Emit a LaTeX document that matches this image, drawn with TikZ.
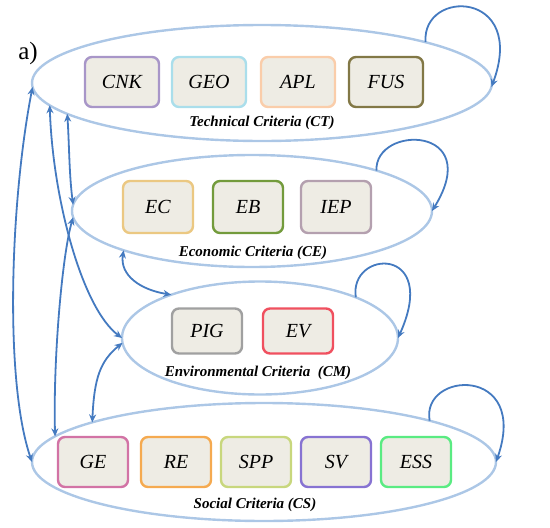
\documentclass[tikz,border=0pt]{standalone}
\usepackage{fontspec}
\setmainfont{Liberation Serif}
\usetikzlibrary{shapes.geometric,arrows.meta}

\definecolor{ringblue}{RGB}{172,199,230}
\definecolor{arrowblue}{RGB}{68,122,192}
\definecolor{boxfill}{RGB}{238,236,228}
\definecolor{cnkcol}{RGB}{168,150,200}
\definecolor{geocol}{RGB}{170,222,235}
\definecolor{aplcol}{RGB}{250,205,170}
\definecolor{fuscol}{RGB}{130,120,70}
\definecolor{eccol}{RGB}{235,200,130}
\definecolor{ebcol}{RGB}{115,155,60}
\definecolor{iepcol}{RGB}{180,160,175}
\definecolor{pigcol}{RGB}{160,160,160}
\definecolor{evcol}{RGB}{240,80,95}
\definecolor{gecol}{RGB}{210,115,165}
\definecolor{recol}{RGB}{245,170,80}
\definecolor{sppcol}{RGB}{200,215,125}
\definecolor{svcol}{RGB}{135,115,210}
\definecolor{esscol}{RGB}{90,235,130}

\tikzset{
  critring/.style={ellipse, draw=ringblue, line width=2.4pt, inner sep=0pt, outer sep=0pt},
  critbox/.style={draw=#1, fill=boxfill, rounded corners=7pt, line width=2.4pt,
    minimum width=70pt, minimum height=50pt, inner sep=0pt,
    font=\fontsize{20}{20}\selectfont\itshape},
  grouptitle/.style={font=\fontsize{15}{15}\selectfont\bfseries\itshape},
  link/.style={arrowblue, line width=1.8pt,
    {Stealth[length=8pt,width=7pt]}-{Stealth[length=8pt,width=7pt]}},
  selfloop/.style={arrowblue, line width=1.8pt, -{Stealth[length=8pt,width=7pt]}},
}

\begin{document}
\begin{tikzpicture}[x=1pt, y=-1pt]
    \useasboundingbox (0,0) rectangle (550,528);

    % groups
    \node[critring, minimum width=460pt, minimum height=116pt] (CT) at (262,83) {};
    \node[critring, minimum width=360pt, minimum height=112pt] (CE) at (252,211) {};
    \node[critring, minimum width=276pt, minimum height=113pt] (CM) at (260,338) {};
    \node[critring, minimum width=464pt, minimum height=118pt] (CS) at (264,462) {};

    \node[font=\fontsize{25}{25}\selectfont] (tag) at (28,53) {a)};

    % technical
    \foreach \name/\x/\col in {CNK/122/cnkcol, GEO/209/geocol, APL/298/aplcol, FUS/386/fuscol}
        \node[critbox=\col, minimum width=74pt] (\name) at (\x,82) {\name};
    \node[grouptitle] (tCT) at (262,123) {Technical Criteria (CT)};

    % economic
    \foreach \name/\x/\col in {EC/158/eccol, EB/248/ebcol, IEP/336/iepcol}
        \node[critbox=\col, minimum height=52pt] (\name) at (\x,207) {\name};
    \node[grouptitle] (tCE) at (253,253) {Economic Criteria (CE)};

    % environmental
    \foreach \name/\x/\col in {PIG/207/pigcol, EV/298/evcol}
        \node[critbox=\col, minimum height=45pt] (\name) at (\x,331) {\name};
    \node[grouptitle] (tCM) at (258,373) {Environmental Criteria~~(CM)};

    % social
    \foreach \name/\x/\col in {GE/93/gecol, RE/176/recol, SPP/256/sppcol, SV/336/svcol, ESS/416/esscol}
        \node[critbox=\col] (\name) at (\x,462) {\name};
    \node[grouptitle] (tCS) at (255,505) {Social Criteria (CS)};

    % links between groups
    \draw[link] (CT.181) .. controls +(-22,113) and +(-28,-82) .. (CS.180);
    \draw[link] (CT.186) .. controls +(3,93) and +(-40,-30) .. (CM.180);
    \draw[link] (CT.189) .. controls +(2,30) and +(-4,-30) .. (CE.178);
    \draw[link] (CE.182) .. controls +(-11,38) and +(-2,-77) .. (CS.173);
    \draw[link] (CE.197) .. controls +(-4,25) and +(-31,-5) .. (CM.154);
    \draw[link] (CM.182) .. controls +(-22,18) and +(2,-45) .. (CS.167);

    % self loops
    \draw[selfloop] (CT.14) .. controls +(-4,-54) and +(36,-97) .. (CT.-1);
    \draw[selfloop] (CE.18) .. controls +(-2,-46) and +(53,-86) .. (CE.0);
    \draw[selfloop] (CM.23) .. controls +(-7,-48) and +(42,-93) .. (CM.0);
    \draw[selfloop] (CS.14) .. controls +(-9,-50) and +(34,-97) .. (CS.0);
\end{tikzpicture}
\end{document}
